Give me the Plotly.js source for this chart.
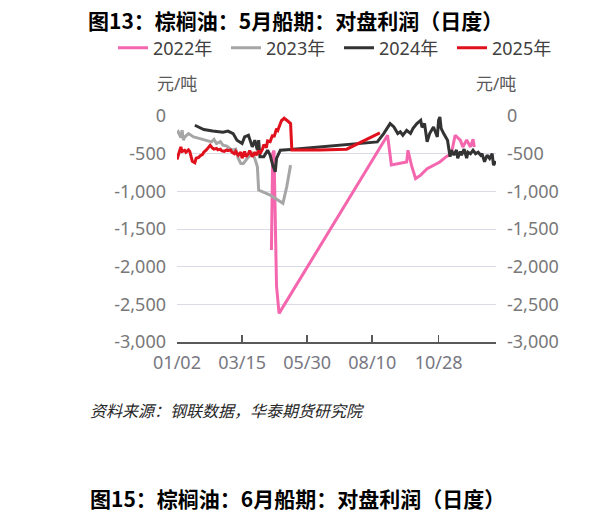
<!DOCTYPE html>
<html>
<head>
<meta charset="utf-8">
<script src="https://cdn.plot.ly/plotly-3.0.1.min.js"></script>
<style>
  html, body { margin: 0; padding: 0; background: #fff; }
  #chart { width: 599px; height: 522px; }
</style>
</head>
<body>
<div id="chart"></div>
<script>
// x = trading-day index within the year, y = profit in 元/吨
const tickPos = [0, 51, 102, 153, 205, 250];
const tickLabels = ["01/02", "03/15", "05/30", "08/10", "10/28", ""];
const yTicks = [0, -500, -1000, -1500, -2000, -2500, -3000];
const yTickLabels = ["0", "-500", "-1,000", "-1,500", "-2,000", "-2,500", "-3,000"];

const seriesNames = ["2022年", "2023年", "2024年", "2025年"];
const seriesColors = ["#f466ae", "#a6a6a6", "#333333", "#e0101c"];

const x2022 = [74, 75, 76, 78, 80, 165, 168, 176, 180, 181, 184, 187, 191, 196, 206, 211, 215, 218, 222, 224, 227, 230, 232, 233];
const y2022 = [-1780, -500, -460, -2260, -2620, -255, -650, -630, -610, -455, -670, -830, -785, -700, -610, -540, -500, -255, -320, -410, -320, -410, -310, -410];

const x2023 = [0, 1, 3, 4, 5, 6, 9, 13, 18, 23, 27, 29, 31, 34, 36, 39, 43, 46, 48, 50, 52, 55, 59, 61, 63, 64, 73, 83, 86, 89];
const y2023 = [-233, -211, -286, -189, -321, -280, -233, -278, -300, -321, -344, -310, -365, -340, -388, -400, -454, -440, -564, -630, -630, -564, -497, -564, -675, -983, -1049, -1159, -939, -652];

const x2024 = [14, 21, 28, 36, 40, 44, 47, 51, 53, 56, 59, 61, 63, 64, 65, 68, 71, 73, 75, 77, 78, 81, 89, 157, 162, 167, 170, 173, 175, 177, 180, 183, 185, 188, 191, 192, 194, 196, 198, 201, 204, 205, 206, 207, 209, 212, 214, 215, 217, 219, 220, 222, 223, 225, 227, 228, 230, 232, 234, 236, 238, 239, 241, 243, 245, 247, 248, 250];
const y2024 = [-123, -180, -198, -215, -200, -233, -321, -365, -278, -255, -410, -321, -454, -321, -542, -542, -454, -520, -652, -740, -564, -454, -444, -344, -233, -101, -145, -233, -210, -255, -190, -230, -165, -100, -57, -150, -100, -344, -233, -145, -278, -57, -13, -165, -233, -321, -542, -454, -520, -450, -560, -470, -520, -440, -560, -480, -500, -454, -500, -480, -520, -500, -608, -520, -564, -500, -652, -600];

const x2025 = [0, 1, 3, 4, 6, 7, 9, 10, 12, 14, 15, 17, 18, 20, 21, 23, 25, 26, 28, 29, 31, 32, 34, 35, 37, 39, 40, 42, 43, 45, 46, 48, 50, 51, 53, 54, 56, 57, 59, 61, 62, 64, 65, 67, 68, 70, 71, 73, 75, 76, 78, 79, 81, 82, 84, 85, 87, 89, 90, 112, 133, 159];
const y2025 = [-577, -520, -410, -470, -455, -480, -450, -470, -600, -620, -560, -550, -530, -510, -480, -450, -400, -390, -430, -440, -430, -450, -440, -460, -470, -450, -460, -450, -480, -500, -470, -520, -480, -560, -470, -540, -500, -460, -540, -480, -520, -460, -500, -440, -380, -420, -330, -340, -250, -280, -170, -190, -100, -60, -30, -40, -70, -100, -450, -450, -440, -225];

const xs = [x2022, x2023, x2024, x2025];
const ys = [y2022, y2023, y2024, y2025];

const numFont = "Noto Sans, Noto Sans CJK SC, sans-serif";
const cjkFont = "Noto Sans CJK SC, sans-serif";

let traces = seriesNames.map((name, i) => ({
  x: xs[i],
  y: ys[i],
  name: name,
  type: "scatter",
  mode: "lines",
  line: { color: seriesColors[i], width: 3 },
  hoverinfo: "skip",
}));

// dummy trace so the right-hand axis gets drawn
traces.push({ x: [0], y: [0], yaxis: "y2", mode: "lines", showlegend: false, hoverinfo: "skip", line: { width: 0 } });

let layout = {
  width: 599,
  height: 522,
  margin: { l: 177, r: 103, t: 116, b: 180 },
  paper_bgcolor: "#ffffff",
  plot_bgcolor: "#ffffff",
  showlegend: true,
  title: {
    text: "<b>图13：棕榈油：5月船期：对盘利润（日度）</b>",
    font: { family: cjkFont, size: 21, color: "#000000" },
    xref: "container",
    yref: "container",
    x: 88 / 599,
    xanchor: "left",
    y: 1 - 22 / 522,
    yanchor: "middle",
  },
  legend: {
    orientation: "h",
    xref: "paper",
    yref: "paper",
    x: (113 - 177) / 319,
    xanchor: "left",
    y: (342 - 48) / 226,
    yanchor: "middle",
    font: { family: numFont, size: 18, color: "#404040" },
    entrywidth: 68,
    entrywidthmode: "pixels",
    bgcolor: "rgba(0,0,0,0)",
  },
  xaxis: {
    range: [0, 250],
    tickvals: tickPos,
    ticktext: tickLabels,
    ticks: "inside",
    ticklen: 7,
    tickwidth: 1.5,
    tickcolor: "#595959",
    showline: true,
    linecolor: "#595959",
    linewidth: 1.5,
    showgrid: false,
    zeroline: false,
    ticklabelstandoff: 4,
    tickfont: { family: numFont, size: 18, color: "#787882" },
    fixedrange: true,
  },
  yaxis: {
    range: [-3000, 0],
    tickvals: yTicks,
    ticktext: yTickLabels,
    showgrid: true,
    gridcolor: "#d9dce6",
    gridwidth: 1,
    zeroline: false,
    showline: false,
    ticks: "",
    ticklabelstandoff: 10,
    tickfont: { family: numFont, size: 18, color: "#787878" },
    fixedrange: true,
  },
  yaxis2: {
    overlaying: "y",
    side: "right",
    range: [-3000, 0],
    tickvals: yTicks,
    ticktext: yTickLabels,
    showgrid: false,
    zeroline: false,
    showline: false,
    ticks: "",
    ticklabelstandoff: 10,
    tickfont: { family: numFont, size: 18, color: "#787878" },
    fixedrange: true,
  },
  annotations: [
    {
      text: "元/吨", xref: "paper", yref: "paper", x: 0, y: 1.145,
      xanchor: "center", yanchor: "middle", showarrow: false,
      font: { family: numFont, size: 17, color: "#595959" },
    },
    {
      text: "元/吨", xref: "paper", yref: "paper", x: 1, y: 1.145,
      xanchor: "center", yanchor: "middle", showarrow: false,
      font: { family: numFont, size: 17, color: "#595959" },
    },
    {
      text: "<i>资料来源：钢联数据，华泰期货研究院</i>", xref: "paper", yref: "paper",
      x: (88 - 177) / 319, y: (342 - 410) / 226,
      xanchor: "left", yanchor: "middle", showarrow: false,
      font: { family: cjkFont, size: 16, color: "#262626" },
    },
    {
      text: "<b>图15：棕榈油：6月船期：对盘利润（日度）</b>", xref: "paper", yref: "paper",
      x: (88 - 177) / 319, y: (342 - 498) / 226,
      xanchor: "left", yanchor: "middle", showarrow: false,
      font: { family: cjkFont, size: 21, color: "#000000" },
    },
  ],
};

Plotly.newPlot("chart", traces, layout, { displayModeBar: false, staticPlot: true });
</script>
</body>
</html>
